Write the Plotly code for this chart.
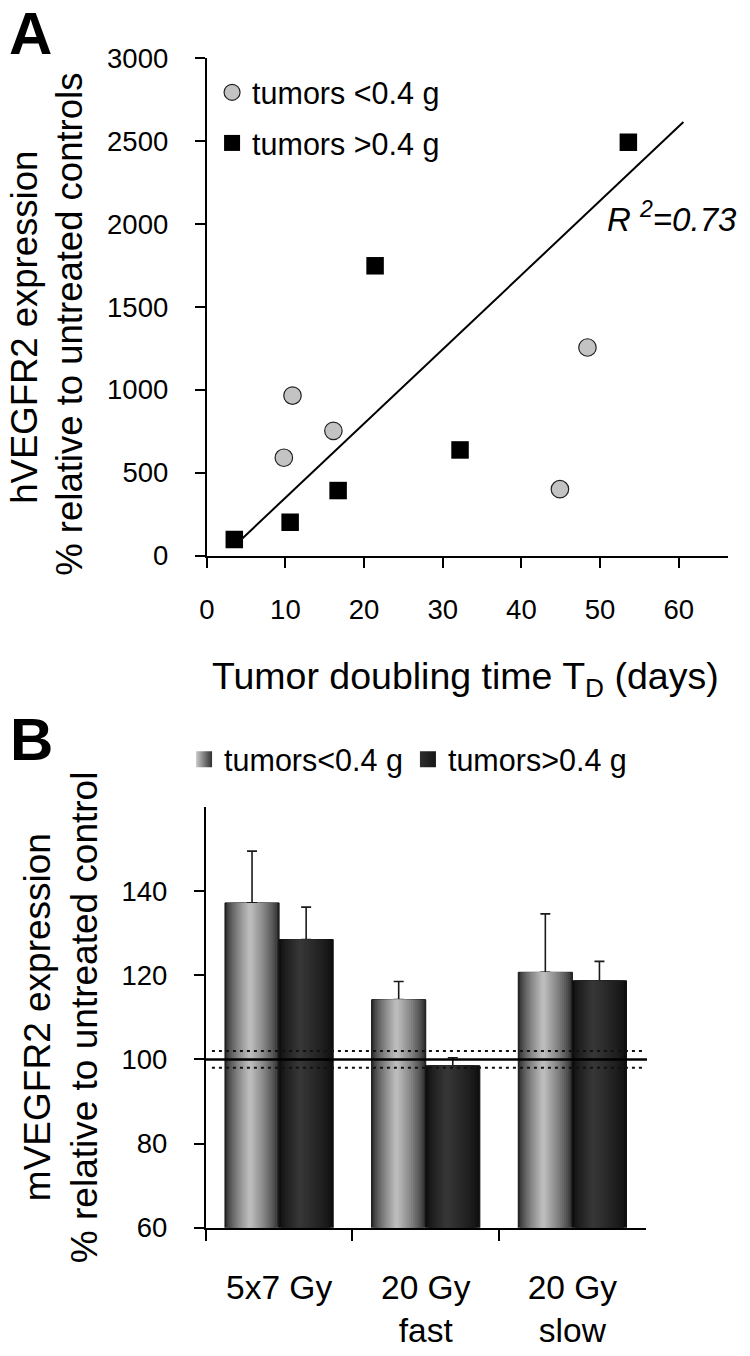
import plotly.graph_objects as go

# ---------------- data: panel A ----------------
small_td = [9.8, 10.9, 16.1, 44.9, 48.4]          # tumors <0.4 g, doubling time (days)
small_expr = [590, 965, 752, 400, 1255]           # hVEGFR2 % of control
large_td = [3.5, 10.6, 16.7, 21.4, 32.2, 53.6]    # tumors >0.4 g
large_expr = [96, 200, 392, 1748, 637, 2493]
trend_td = [4.45, 60.6]                           # regression line
trend_expr = [100, 2615]
r2_label = "<i>R <sup>2</sup>=0.73</i>"
a_xticks = [0, 10, 20, 30, 40, 50, 60]
a_yticks = [0, 500, 1000, 1500, 2000, 2500, 3000]

# ---------------- data: panel B ----------------
categories = ["5x7 Gy", "20 Gy<br>fast", "20 Gy<br>slow"]
small_mean = [137.2, 114.2, 120.7]
small_err = [12.3, 4.3, 13.9]
large_mean = [128.5, 98.5, 118.7]
large_err = [7.7, 1.9, 4.6]
control_level = 100
control_band = [98, 102]
b_yticks = [60, 80, 100, 120, 140]

W, H = 750, 1356
FONT = "Liberation Sans, Arial, Helvetica, sans-serif"
# mapping from target picture pixels to layout pixels
SX, OX = 0.989, 8.0
SY, OY = 0.978, 15.0


def px_x(p):
    return ((p - OX) / SX) / W


def px_y(p):
    return 1 - ((p - OY) / SY) / H


def mix(c1, c2, t):
    a = [int(c1[i:i + 2], 16) for i in (1, 3, 5)]
    b = [int(c2[i:i + 2], 16) for i in (1, 3, 5)]
    return "#" + "".join("%02x" % round(a[j] + (b[j] - a[j]) * t) for j in range(3))


fig = go.Figure()

# ---- Panel A traces ----
fig.add_trace(go.Scatter(
    x=trend_td, y=trend_expr, mode="lines", line=dict(color="black", width=2),
    showlegend=False, xaxis="x", yaxis="y", hoverinfo="skip"))
fig.add_trace(go.Scatter(
    x=small_td, y=small_expr, mode="markers", name="tumors <0.4 g",
    marker=dict(symbol="circle", size=17.5, color="#c3c3c3", line=dict(color="#222", width=1.2)),
    xaxis="x", yaxis="y", legend="legend", legendgroup="a1"))
fig.add_trace(go.Scatter(
    x=large_td, y=large_expr, mode="markers", name="tumors >0.4 g",
    marker=dict(symbol="square", size=17.5, color="black", line=dict(color="black", width=0)),
    xaxis="x", yaxis="y", legend="legend", legendgroup="a2"))

# ---- Panel B bars (layered to imitate the cylinder-like gradient) ----
BW = 0.369   # width of one bar in category units
NL = 14


def add_bars(values, errs, start, peak, c_edge, c_peak):
    for k in range(NL):
        t = k / NL
        left = start + peak * BW * t
        right = start + BW - (1 - peak) * BW * t
        col = mix(c_edge, c_peak, (k / (NL - 1)) ** 0.75)
        kw = {}
        if k == 0:
            kw["error_y"] = dict(type="data", symmetric=False, array=errs,
                                 arrayminus=[0] * len(errs), color="#1a1a1a",
                                 thickness=1.6, width=5)
            kw["marker_line"] = dict(color="#111", width=1)
        else:
            kw["marker_line"] = dict(width=0)
        fig.add_trace(go.Bar(
            x=categories, y=values, offset=left, width=right - left,
            marker_color=col, showlegend=False, xaxis="x2", yaxis="y2",
            hoverinfo="skip", **kw))


add_bars(small_mean, small_err, -BW, 0.46, "#2c2c2c", "#bcbcbc")
add_bars(large_mean, large_err, 0.0, 0.38, "#0e0e0e", "#363636")

# legend entries for panel B
fig.add_trace(go.Scatter(
    x=[None], y=[None], mode="markers", name="tumors<0.4 g",
    marker=dict(symbol="square", size=18, color="#cacaca",
                gradient=dict(type="horizontal", color="#303030"), line=dict(width=0)),
    xaxis="x2", yaxis="y2", legend="legend2"))
fig.add_trace(go.Scatter(
    x=[None], y=[None], mode="markers", name="tumors>0.4 g",
    marker=dict(symbol="square", size=18, color="#2e2e2e",
                gradient=dict(type="horizontal", color="#151515"), line=dict(width=0)),
    xaxis="x2", yaxis="y2", legend="legend2"))

axis_common = dict(showline=True, linecolor="black", linewidth=2, ticks="outside",
                   tickcolor="black", tickwidth=2, showgrid=False, zeroline=False,
                   tickfont=dict(size=27.5, color="black", family=FONT))

fig.update_layout(
    width=W, height=H, margin=dict(l=0, r=0, t=0, b=0),
    paper_bgcolor="white", plot_bgcolor="white",
    font=dict(family=FONT, size=27, color="black"),
    barmode="overlay",
    xaxis=dict(domain=[px_x(206.7), px_x(728)], range=[0, 66.3], tickvals=a_xticks,
               ticklen=10, ticklabelstandoff=18, anchor="y", **axis_common),
    yaxis=dict(domain=[px_y(556), px_y(58.3)], range=[0, 3000], tickvals=a_yticks,
               ticklen=10, ticklabelstandoff=21, anchor="x", **axis_common),
    xaxis2=dict(domain=[px_x(205.7), px_x(645.5)], type="category", categoryorder="array",
                categoryarray=categories, range=[-0.5, 2.5], tickson="boundaries",
                ticklen=11, ticklabelstandoff=29, anchor="y2",
                **{**axis_common, "tickfont": dict(size=33.5, color="black", family=FONT)}),
    yaxis2=dict(domain=[px_y(1228.7), px_y(807.7)], range=[60, 160], tickvals=b_yticks,
                ticklen=10, ticklabelstandoff=21, anchor="x2", **axis_common),
    legend=dict(x=px_x(212), y=px_y(66), xanchor="left", yanchor="top",
                font=dict(size=30.5, family=FONT, color="black"), bgcolor="rgba(0,0,0,0)",
                tracegroupgap=8, itemwidth=30),
    legend2=dict(orientation="h", x=px_x(184), y=px_y(760), xanchor="left", yanchor="middle",
                 font=dict(size=30.5, family=FONT, color="black"), bgcolor="rgba(0,0,0,0)",
                 itemwidth=30),
)

# reference lines (untreated control mean and band)
fig.add_shape(type="line", xref="x2 domain", yref="y2", x0=0, x1=1.003,
              y0=control_level, y1=control_level, line=dict(color="black", width=2.5))
for lvl in control_band:
    fig.add_shape(type="line", xref="x2 domain", yref="y2", x0=0.014, x1=0.993,
                  y0=lvl, y1=lvl, line=dict(color="#111", width=2, dash="3px,4px"))

ann = [
    dict(text="<b>A</b>", x=px_x(30), y=px_y(34), font=dict(size=60)),
    dict(text="<b>B</b>", x=px_x(31.5), y=px_y(740), font=dict(size=60)),
    dict(text="hVEGFR2 expression", x=px_x(25), y=px_y(328), textangle=-90, font=dict(size=36.5)),
    dict(text="% relative to untreated controls", x=px_x(70), y=px_y(325), textangle=-90,
         font=dict(size=36.5)),
    dict(text="Tumor doubling time T<sub>D</sub> (days)", x=px_x(465), y=px_y(680),
         font=dict(size=37.5)),
    dict(text=r2_label, x=px_x(605), y=px_y(217), xanchor="left", font=dict(size=33)),
    dict(text="mVEGFR2 expression", x=px_x(37), y=px_y(1018), textangle=-90, font=dict(size=37)),
    dict(text="% relative to untreated control", x=px_x(84), y=px_y(1018), textangle=-90,
         font=dict(size=37)),
]
for a in ann:
    a.setdefault("xanchor", "center")
    a.setdefault("yanchor", "middle")
    a["font"] = dict(family=FONT, color="black", **a["font"])
    fig.add_annotation(xref="paper", yref="paper", showarrow=False, **a)

page_fix = (
    "document.documentElement.style.margin='0';"
    "document.body.style.margin='0';"
    "document.body.style.overflow='hidden';"
    "var g=document.getElementById('{plot_id}');"
    "g.style.position='absolute';g.style.left='0px';g.style.top='0px';"
)
fig.write_html("out.html", config={"displayModeBar": False}, post_script=page_fix)
